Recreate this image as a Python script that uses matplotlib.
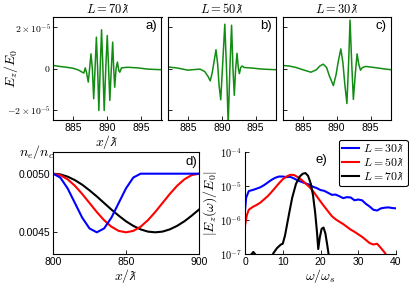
import numpy as np
import matplotlib
matplotlib.use('Agg')
import matplotlib.pyplot as plt
from matplotlib.ticker import FixedLocator, FixedFormatter, FormatStrFormatter, NullLocator

plt.rcParams['font.family'] = ['Liberation Sans', 'DejaVu Sans']
plt.rcParams['mathtext.fontset'] = 'cm'

# top row: E_z/E_0 versus x/lambdabar (values in units of 1e-6)
xa = [882.0, 883.0, 884.0, 885.0, 885.8, 886.3, 886.55, 886.75, 886.95, 887.2, 887.4, 887.6, 887.8,
      888.0, 888.2, 888.4, 888.58, 888.76, 888.96, 889.16, 889.36, 889.55, 889.78, 890.0, 890.2,
      890.38, 890.6, 890.8, 890.95, 891.1, 891.3, 891.5, 891.7, 891.85, 892.1, 893.0, 894.5, 896.0, 898.0]
ya = [1.5, 1.0, 0.6, 0.1, -0.8, -1.8, -2.2, 0.3, -2.0, -6.6, 0.0, 7.1, 0.0,
      -14.7, 0.0, 15.2, 0.0, -20.4, 0.0, 18.8, 0.0, -20.4, 0.0, 16.0, 0.0,
      -15.5, 0.0, 12.8, 0.0, -9.1, 0.0, 3.1, -1.0, -1.8, 0.3, 0.6, 0.3, -0.3, -0.6]

xb = [882.0, 883.5, 885.0, 886.0, 886.8, 887.5, 888.0, 888.3, 888.6, 888.85, 889.15, 889.4, 889.6,
      889.85, 890.1, 890.45, 890.7, 890.95, 891.2, 891.45, 891.65, 891.85, 892.05, 892.25, 892.45,
      892.6, 892.8, 893.0, 893.3, 894.5, 896.0, 898.0]
yb = [0.8, 0.2, -0.8, -0.5, -0.3, -1.5, -4.0, -6.0, -2.0, 3.0, 9.1, 2.0, -8.0,
      -15.2, 0.0, 21.5, 0.0, -27.0, 0.0, 21.0, 0.0, -13.0, 0.0, 7.4, 0.0,
      -2.5, 0.5, 1.2, 0.5, 0.2, -0.3, -0.6]

xc = [882.0, 883.0, 884.0, 885.0, 886.2, 887.0, 887.5, 888.0, 888.5, 888.9, 889.5, 889.9, 890.2,
      890.6, 890.9, 891.2, 891.5, 891.75, 891.96, 892.2, 892.45, 892.75, 893.0, 893.25, 893.5,
      893.8, 894.3, 895.5, 897.0, 898.0]
yc = [1.5, 1.2, 0.5, -0.6, -1.8, -0.6, 1.2, 2.1, 0.5, -3.5, -8.3, -3.0, 3.0,
      9.5, 3.0, -8.0, -17.0, 3.0, 23.5, 3.0, -15.0, -2.0, 7.1, 2.0, -0.8,
      0.5, 1.0, 0.5, -0.2, -0.6]

top_titles = [r'$L=70\lambdabar$', r'$L=50\lambdabar$', r'$L=30\lambdabar$']
top_tags = ['a)', 'b)', 'c)']

# panel d: density profiles
xd = [800, 805, 810, 815, 820, 825, 830, 835, 840, 845, 850, 855, 860, 865, 870, 875, 880, 885, 890, 895, 900]
nd_30 = [0.005000, 0.004967, 0.004875, 0.004750, 0.004625, 0.004533, 0.004500, 0.004533, 0.004625,
         0.004750, 0.004875, 0.004967, 0.005000, 0.005000, 0.005000, 0.005000, 0.005000, 0.005000,
         0.005000, 0.005000, 0.005000]
nd_50 = [0.005000, 0.004988, 0.004952, 0.004897, 0.004827, 0.004750, 0.004673, 0.004603, 0.004548,
         0.004512, 0.004500, 0.004512, 0.004548, 0.004603, 0.004673, 0.004750, 0.004827, 0.004897,
         0.004952, 0.004988, 0.005000]
nd_70 = [0.005000, 0.004994, 0.004975, 0.004945, 0.004906, 0.004858, 0.004806, 0.004750, 0.004694,
         0.004642, 0.004594, 0.004555, 0.004525, 0.004506, 0.004500, 0.004506, 0.004525, 0.004555,
         0.004594, 0.004642, 0.004694]

# panel e: spectra
we_30 = [0, 0.3, 1, 2, 3, 4, 5, 6, 7, 8, 9, 10, 11, 12, 13, 14, 15, 16, 17, 18, 19, 20,
         21, 22, 23, 24, 25, 26, 27, 28, 29, 30, 31, 32, 33, 34, 35, 36, 37, 38, 39, 40]
se_30 = [1.9e-6, 4.5e-6, 7.1e-6, 7.6e-6, 8.3e-6, 9.1e-6, 1.05e-5, 1.26e-5, 1.51e-5, 1.74e-5, 1.9e-5,
         1.9e-5, 1.82e-5, 1.86e-5, 1.66e-5, 1.45e-5, 1.32e-5, 1.2e-5, 1.1e-5, 9.5e-6, 8.7e-6, 7.6e-6,
         7.2e-6, 6.3e-6, 5.5e-6, 5.6e-6, 5.0e-6, 4.4e-6, 4.7e-6, 4.6e-6, 3.8e-6, 4.0e-6, 3.8e-6,
         3.0e-6, 2.5e-6, 2.0e-6, 1.9e-6, 2.2e-6, 2.3e-6, 2.35e-6, 2.25e-6, 2.2e-6]
we_50 = [0, 0.5, 1, 2, 3, 4, 5, 6, 7, 8, 9, 10, 11, 12, 13, 14, 15, 16, 17, 18, 19, 20,
         21, 22, 23, 24, 25, 26, 27, 28, 29, 30, 31, 32, 33, 34, 35, 36, 37, 37.5]
se_50 = [6.8e-7, 1.4e-6, 2.0e-6, 2.4e-6, 2.75e-6, 3.2e-6, 4.0e-6, 5.0e-6, 6.6e-6, 8.9e-6, 1.2e-5,
         1.58e-5, 1.9e-5, 2.14e-5, 2.1e-5, 1.82e-5, 1.51e-5, 1.2e-5, 9.5e-6, 7.1e-6, 5.0e-6, 3.5e-6,
         2.5e-6, 1.8e-6, 1.3e-6, 1.05e-6, 8.9e-7, 7.6e-7, 6.3e-7, 5.2e-7, 4.5e-7, 3.8e-7, 3.2e-7,
         2.6e-7, 2.1e-7, 1.9e-7, 2.0e-7, 1.5e-7, 1.1e-7, 0.9e-7]
we_70 = [1.0, 1.6, 2.2, 2.8, 3.5, 6.8, 7.5, 8.5, 9.5, 10.0, 10.6, 11.2, 11.8, 12.5, 13.5, 14.5, 15.3,
         16.0, 16.7, 17.4, 18.0, 18.6, 19.1, 19.4, 19.8, 20.3, 20.8, 21.3, 21.8, 22.2, 22.6]
se_70 = [0.5e-7, 0.95e-7, 1.15e-7, 0.95e-7, 0.5e-7, 0.6e-7, 1.05e-7, 1.5e-7, 1.9e-7, 2.0e-7, 3.5e-7,
         8e-7, 1.8e-6, 4.5e-6, 1.15e-5, 1.9e-5, 2.3e-5, 2.4e-5, 2.0e-5, 1.2e-5, 5.5e-6, 1.6e-6,
         4e-7, 1.4e-7, 3e-7, 5.5e-7, 6e-7, 4e-7, 1.8e-7, 0.9e-7, 0.5e-7]

fig = plt.figure(figsize=(4.09, 2.86), dpi=100)

def style(ax):
    ax.tick_params(direction='in', length=3, width=0.6, labelsize=7.5, pad=2)
    for s in ax.spines.values():
        s.set_linewidth(0.8)

# top row
lefts = [53/409, 167.5/409, 282.5/409]
for i, (xs, ys) in enumerate([(xa, ya), (xb, yb), (xc, yc)]):
    ax = fig.add_axes([lefts[i], 166/286, 108.5/409, 103/286])
    ax.plot(xs, np.array(ys) * 1e-6, color='#128c12', lw=1.1)
    ax.set_xlim(882, 898)
    ax.set_ylim(-2.5e-5, 2.5e-5)
    ax.xaxis.set_major_locator(FixedLocator([885, 890, 895]))
    ax.yaxis.set_major_locator(FixedLocator([-2e-5, 0, 2e-5]))
    style(ax)
    if i == 0:
        ax.yaxis.set_major_formatter(FixedFormatter([r'$-2\times10^{-5}$', r'$0$', r'$2\times10^{-5}$']))
        ax.tick_params(axis='y', labelsize=7, pad=1.5)
        ax.set_ylabel(r'$E_z/E_0$', fontsize=10)
        ax.yaxis.set_label_coords(-0.30, 0.5)
        ax.set_xlabel(r'$x/\lambdabar$', fontsize=10, labelpad=0)
    else:
        ax.set_yticklabels([])
    ax.set_title(top_titles[i], fontsize=9, pad=3)
    ax.text(0.96, 0.91, top_tags[i], transform=ax.transAxes, ha='right', va='center', fontsize=9.5)

# panel d
axd = fig.add_axes([53/409, 32/286, 146/409, 102/286])
axd.plot(xd, nd_70, color='black', lw=1.5)
axd.plot(xd, nd_50, color='red', lw=1.5)
axd.plot(xd, nd_30, color='blue', lw=1.5)
axd.set_xlim(800, 900)
axd.set_ylim(0.004315, 0.005185)
axd.xaxis.set_major_locator(FixedLocator([800, 850, 900]))
axd.yaxis.set_major_locator(FixedLocator([0.0045, 0.0050]))
axd.yaxis.set_major_formatter(FormatStrFormatter('%.4f'))
style(axd)
axd.set_xlabel(r'$x/\lambdabar$', fontsize=10, labelpad=0)
axd.text(-0.11, 1.0, r'$n_e/n_c$', transform=axd.transAxes, ha='center', va='center', fontsize=10)
axd.text(0.985, 0.9, 'd)', transform=axd.transAxes, ha='right', va='center', fontsize=9.5)

# panel e
axe = fig.add_axes([245/409, 32/286, 151/409, 102/286])
axe.plot(we_30, se_30, color='blue', lw=1.5, label=r'$L=30\lambdabar$')
axe.plot(we_50, se_50, color='red', lw=1.5, label=r'$L=50\lambdabar$')
axe.plot(we_70, se_70, color='black', lw=1.5, label=r'$L=70\lambdabar$')
axe.set_yscale('log')
axe.set_xlim(0, 40)
axe.set_ylim(1e-7, 1e-4)
axe.xaxis.set_major_locator(FixedLocator([0, 10, 20, 30, 40]))
axe.yaxis.set_major_locator(FixedLocator([1e-7, 1e-6, 1e-5, 1e-4]))
axe.yaxis.set_major_formatter(FixedFormatter([r'$\mathsf{10^{-7}}$', r'$\mathsf{10^{-6}}$',
                                              r'$\mathsf{10^{-5}}$', r'$\mathsf{10^{-4}}$']))
axe.yaxis.set_minor_locator(NullLocator())
axe.spines['top'].set_visible(False)
axe.spines['right'].set_visible(False)
style(axe)
axe.set_xlabel(r'$\omega/\omega_s$', fontsize=10, labelpad=0)
axe.set_ylabel(r'$|E_z(\omega)/E_0|$', fontsize=10, labelpad=1)
axe.text(0.545, 0.92, 'e)', transform=axe.transAxes, ha='right', va='center', fontsize=9.5)
leg = axe.legend(loc='upper right', bbox_to_anchor=(0.997, 0.512), bbox_transform=fig.transFigure,
                 fontsize=8.5, handlelength=1.4, handletextpad=0.4, borderpad=0.3,
                 labelspacing=0.15, borderaxespad=0, fancybox=True, framealpha=1)
leg.get_frame().set_edgecolor('black')
leg.get_frame().set_linewidth(0.8)

fig.savefig('out.png', dpi=100)
